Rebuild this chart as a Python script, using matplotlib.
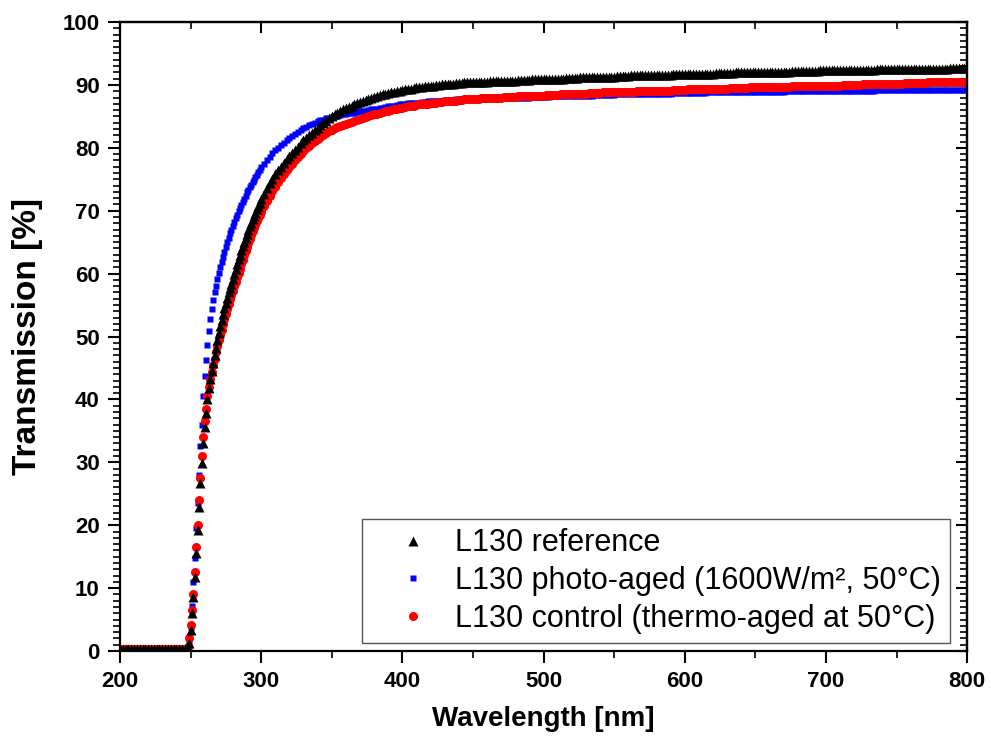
import numpy as np
import matplotlib
matplotlib.use('Agg')
import matplotlib.pyplot as plt
from matplotlib.ticker import MultipleLocator

plt.rcParams['font.family'] = ['Liberation Sans', 'DejaVu Sans']

# wavelength grid [nm]: flat part (2 nm), steep edge (1 nm), rest (2 nm)
wl = np.concatenate([np.arange(200, 248, 2), np.arange(248, 301, 1), np.arange(302, 801, 2)])

base = [0.3] * 24

ref_edge = [0.5, 1.3, 3.3, 6.0, 8.6, 11.8, 15.6, 19.2, 22.9, 26.7, 29.9, 33.1, 35.6, 37.8,
            40.0, 41.8, 43.2, 44.5, 45.8, 47.0, 48.2, 49.4, 50.5, 51.6, 52.6, 53.6, 54.5,
            55.4, 56.2, 57.0, 57.7, 58.4, 59.1, 59.9, 60.7, 61.5, 62.3, 63.0, 63.7, 64.4,
            65.1, 65.7, 66.3, 66.9, 67.5, 68.1, 68.7, 69.2, 69.7, 70.2, 70.8, 71.3, 71.8]
ref_rest = [72.7, 73.6, 74.4, 75.1, 75.8, 76.4, 77.0, 77.6, 78.2, 78.7,
            79.2, 79.7, 80.2, 80.7, 81.2, 81.6, 82.0, 82.4, 82.8, 83.2,
            83.6, 84.0, 84.3, 84.7, 85.0, 85.3, 85.6, 85.8, 86.1, 86.3,
            86.5, 86.7, 86.9, 87.1, 87.3, 87.5, 87.6, 87.8, 88.0, 88.1,
            88.2, 88.4, 88.5, 88.6, 88.7, 88.8, 88.9, 89.0, 89.1, 89.2,
            89.3, 89.4, 89.4, 89.5, 89.6, 89.6, 89.7, 89.8, 89.8, 89.9,
            89.9, 90.0, 90.0, 90.1, 90.1, 90.1, 90.2, 90.2, 90.3, 90.3,
            90.3, 90.4, 90.4, 90.4, 90.4, 90.5, 90.5, 90.5, 90.5, 90.5,
            90.6, 90.6, 90.6, 90.6, 90.6, 90.7, 90.7, 90.7, 90.7, 90.7,
            90.8, 90.8, 90.8, 90.8, 90.8, 90.9, 90.9, 90.9, 90.9, 90.9,
            91.0, 91.0, 91.0, 91.0, 91.0, 91.0, 91.0, 91.1, 91.1, 91.1,
            91.1, 91.1, 91.2, 91.2, 91.2, 91.2, 91.2, 91.2, 91.3, 91.3,
            91.3, 91.3, 91.3, 91.3, 91.3, 91.4, 91.4, 91.4, 91.4, 91.4,
            91.5, 91.5, 91.5, 91.5, 91.5, 91.5, 91.5, 91.6, 91.6, 91.6,
            91.6, 91.6, 91.6, 91.6, 91.6, 91.7, 91.7, 91.7, 91.7, 91.7,
            91.7, 91.7, 91.8, 91.8, 91.8, 91.8, 91.8, 91.8, 91.8, 91.8,
            91.9, 91.9, 91.9, 91.9, 91.9, 91.9, 91.9, 92.0, 92.0, 92.0,
            92.0, 92.0, 92.0, 92.0, 92.0, 92.0, 92.0, 92.1, 92.1, 92.1,
            92.1, 92.1, 92.1, 92.1, 92.1, 92.1, 92.1, 92.2, 92.2, 92.2,
            92.2, 92.2, 92.2, 92.2, 92.2, 92.2, 92.2, 92.3, 92.3, 92.3,
            92.3, 92.3, 92.3, 92.3, 92.3, 92.3, 92.3, 92.4, 92.4, 92.4,
            92.4, 92.4, 92.4, 92.4, 92.4, 92.4, 92.4, 92.5, 92.5, 92.5,
            92.5, 92.5, 92.5, 92.5, 92.5, 92.5, 92.5, 92.5, 92.5, 92.5,
            92.6, 92.6, 92.6, 92.6, 92.6, 92.6, 92.6, 92.6, 92.6, 92.6,
            92.6, 92.6, 92.6, 92.7, 92.7, 92.7, 92.7, 92.7, 92.7, 92.7]

photo_edge = [0.5, 1.6, 3.8, 7.2, 11.0, 14.8, 19.5, 23.5, 28.0, 32.6, 36.0, 40.5, 43.8, 46.3,
              48.6, 50.8, 52.8, 54.4, 55.8, 57.0, 58.1, 59.1, 60.1, 61.0, 61.9, 62.7, 63.5,
              64.3, 65.0, 65.7, 66.4, 67.0, 67.6, 68.2, 68.8, 69.4, 69.9, 70.4, 70.9, 71.4,
              71.9, 72.4, 72.9, 73.3, 73.7, 74.1, 74.5, 74.9, 75.3, 75.7, 76.1, 76.5, 76.9]
photo_rest = [77.5, 78.1, 78.6, 79.1, 79.6, 80.0, 80.4, 80.8, 81.2, 81.6,
              81.9, 82.2, 82.5, 82.8, 83.1, 83.3, 83.6, 83.8, 84.0, 84.2,
              84.4, 84.5, 84.7, 84.8, 84.9, 85.0, 85.1, 85.2, 85.3, 85.4,
              85.5, 85.5, 85.6, 85.7, 85.8, 85.8, 85.9, 86.0, 86.1, 86.2,
              86.2, 86.3, 86.4, 86.5, 86.6, 86.6, 86.7, 86.8, 86.9, 87.0,
              87.0, 87.1, 87.1, 87.2, 87.2, 87.2, 87.3, 87.3, 87.4, 87.4,
              87.4, 87.5, 87.5, 87.5, 87.6, 87.6, 87.6, 87.6, 87.7, 87.7,
              87.7, 87.7, 87.7, 87.8, 87.8, 87.8, 87.8, 87.8, 87.8, 87.8,
              87.9, 87.9, 87.9, 87.9, 87.9, 87.9, 87.9, 88.0, 88.0, 88.0,
              88.0, 88.0, 88.0, 88.0, 88.0, 88.1, 88.1, 88.1, 88.1, 88.1,
              88.1, 88.1, 88.2, 88.2, 88.2, 88.2, 88.2, 88.2, 88.2, 88.2,
              88.3, 88.3, 88.3, 88.3, 88.3, 88.3, 88.3, 88.4, 88.4, 88.4,
              88.4, 88.4, 88.4, 88.4, 88.4, 88.5, 88.5, 88.5, 88.5, 88.5,
              88.5, 88.5, 88.5, 88.5, 88.5, 88.6, 88.6, 88.6, 88.6, 88.6,
              88.6, 88.6, 88.6, 88.6, 88.6, 88.7, 88.7, 88.7, 88.7, 88.7,
              88.7, 88.7, 88.7, 88.7, 88.7, 88.7, 88.7, 88.8, 88.8, 88.8,
              88.8, 88.8, 88.8, 88.8, 88.8, 88.8, 88.8, 88.8, 88.8, 88.8,
              88.9, 88.9, 88.9, 88.9, 88.9, 88.9, 88.9, 88.9, 88.9, 88.9,
              88.9, 88.9, 88.9, 88.9, 88.9, 89.0, 89.0, 89.0, 89.0, 89.0,
              89.0, 89.0, 89.0, 89.0, 89.0, 89.0, 89.0, 89.0, 89.1, 89.1,
              89.1, 89.1, 89.1, 89.1, 89.1, 89.1, 89.1, 89.1, 89.1, 89.1,
              89.1, 89.1, 89.1, 89.1, 89.1, 89.1, 89.1, 89.2, 89.2, 89.2,
              89.2, 89.2, 89.2, 89.2, 89.2, 89.2, 89.2, 89.2, 89.2, 89.2,
              89.2, 89.2, 89.2, 89.2, 89.2, 89.2, 89.2, 89.2, 89.2, 89.2,
              89.2, 89.2, 89.2, 89.2, 89.2, 89.2, 89.2, 89.2, 89.2, 89.2]

ctrl_edge = [0.6, 2.0, 4.2, 6.5, 9.0, 12.5, 16.5, 20.0, 24.0, 27.5, 31.0, 34.0, 36.5, 38.5,
             40.5, 42.0, 43.2, 44.3, 45.4, 46.5, 47.5, 48.5, 49.4, 50.3, 51.1, 52.0, 52.8,
             53.6, 54.4, 55.2, 55.9, 56.6, 57.3, 58.0, 58.7, 59.4, 60.1, 60.8, 61.5, 62.2,
             62.9, 63.6, 64.3, 64.9, 65.5, 66.1, 66.7, 67.3, 67.8, 68.3, 68.8, 69.3, 69.8]
ctrl_rest = [70.7, 71.5, 72.3, 73.1, 73.8, 74.5, 75.2, 75.8, 76.4, 77.0,
             77.5, 78.0, 78.5, 79.0, 79.5, 79.9, 80.3, 80.7, 81.1, 81.4,
             81.7, 82.0, 82.3, 82.6, 82.9, 83.1, 83.3, 83.5, 83.7, 83.8,
             84.0, 84.1, 84.3, 84.4, 84.6, 84.7, 84.9, 85.0, 85.2, 85.3,
             85.4, 85.6, 85.7, 85.8, 85.9, 86.0, 86.1, 86.2, 86.3, 86.4,
             86.5, 86.6, 86.6, 86.7, 86.8, 86.9, 86.9, 87.0, 87.0, 87.1,
             87.2, 87.2, 87.3, 87.3, 87.4, 87.4, 87.5, 87.5, 87.5, 87.6,
             87.6, 87.7, 87.7, 87.7, 87.8, 87.8, 87.8, 87.9, 87.9, 87.9,
             87.9, 88.0, 88.0, 88.0, 88.0, 88.1, 88.1, 88.1, 88.1, 88.1,
             88.2, 88.2, 88.2, 88.2, 88.2, 88.3, 88.3, 88.3, 88.3, 88.3,
             88.4, 88.4, 88.4, 88.4, 88.4, 88.5, 88.5, 88.5, 88.5, 88.5,
             88.6, 88.6, 88.6, 88.6, 88.6, 88.7, 88.7, 88.7, 88.7, 88.7,
             88.8, 88.8, 88.8, 88.8, 88.8, 88.8, 88.8, 88.9, 88.9, 88.9,
             88.9, 88.9, 89.0, 89.0, 89.0, 89.0, 89.0, 89.0, 89.0, 89.0,
             89.1, 89.1, 89.1, 89.1, 89.1, 89.2, 89.2, 89.2, 89.2, 89.2,
             89.3, 89.3, 89.3, 89.3, 89.3, 89.3, 89.3, 89.4, 89.4, 89.4,
             89.4, 89.4, 89.4, 89.4, 89.4, 89.5, 89.5, 89.5, 89.5, 89.5,
             89.5, 89.5, 89.6, 89.6, 89.6, 89.6, 89.6, 89.6, 89.6, 89.6,
             89.7, 89.7, 89.7, 89.7, 89.7, 89.7, 89.7, 89.8, 89.8, 89.8,
             89.8, 89.8, 89.8, 89.8, 89.8, 89.9, 89.9, 89.9, 89.9, 89.9,
             89.9, 89.9, 89.9, 89.9, 89.9, 90.0, 90.0, 90.0, 90.0, 90.0,
             90.0, 90.0, 90.1, 90.1, 90.1, 90.1, 90.1, 90.1, 90.1, 90.1,
             90.2, 90.2, 90.2, 90.2, 90.2, 90.2, 90.2, 90.3, 90.3, 90.3,
             90.3, 90.3, 90.3, 90.3, 90.3, 90.4, 90.4, 90.4, 90.4, 90.4,
             90.4, 90.4, 90.5, 90.5, 90.5, 90.5, 90.5, 90.5, 90.5, 90.5]

t_ref = np.array(base + ref_edge + ref_rest)
t_photo = np.array(base + photo_edge + photo_rest)
t_ctrl = np.array(base + ctrl_edge + ctrl_rest)

labels = ['L130 reference', 'L130 photo-aged (1600W/m\u00b2, 50\u00b0C)',
          'L130 control (thermo-aged at 50\u00b0C)']

fig = plt.figure(figsize=(9.91, 7.47), dpi=100)
ax = fig.add_axes([0.121, 0.1285, 0.855, 0.842])

p_photo, = ax.plot(wl, t_photo, ls='none', marker='s', ms=5, color='#0000ff', mec='none')
p_ctrl, = ax.plot(wl, t_ctrl, ls='none', marker='o', ms=6.5, color='#ff0000', mec='none')
p_ref, = ax.plot(wl, t_ref, ls='none', marker='^', ms=7.5, color='black', mec='none')

ax.set_xlim(200, 800)
ax.set_ylim(0, 100)
ax.xaxis.set_major_locator(MultipleLocator(100))
ax.xaxis.set_minor_locator(MultipleLocator(50))
ax.yaxis.set_major_locator(MultipleLocator(10))
ax.yaxis.set_minor_locator(MultipleLocator(1))

for s in ax.spines.values():
    s.set_linewidth(1.6)
ax.tick_params(which='major', direction='out', length=8.5, width=1.5, labelsize=16, pad=6)
ax.tick_params(which='minor', direction='out', length=5, width=1.2)
for lab in ax.get_xticklabels() + ax.get_yticklabels():
    lab.set_fontweight('bold')

# mirrored ticks pointing inwards
top = ax.secondary_xaxis('top')
top.xaxis.set_major_locator(MultipleLocator(100))
top.xaxis.set_minor_locator(MultipleLocator(50))
top.tick_params(which='major', direction='in', length=8, width=1.5, labeltop=False)
top.tick_params(which='minor', direction='in', length=5, width=1.2)
right = ax.secondary_yaxis('right')
right.yaxis.set_major_locator(MultipleLocator(10))
right.yaxis.set_minor_locator(MultipleLocator(1))
right.tick_params(which='major', direction='in', length=8, width=1.5, labelright=False)
right.tick_params(which='minor', direction='in', length=5, width=1.2)
for sec in (top, right):
    for s in sec.spines.values():
        s.set_linewidth(1.6)

ax.set_xlabel('Wavelength [nm]', fontsize=20, fontweight='bold', labelpad=10)
ax.set_ylabel('Transmission [%]', fontsize=24, fontweight='bold', labelpad=14)

leg = ax.legend([p_ref, p_photo, p_ctrl], labels, loc='lower right',
                bbox_to_anchor=(0.98, 0.013), borderaxespad=0, fontsize=22,
                frameon=True, fancybox=False, edgecolor='#555555', framealpha=1,
                handlelength=2.75, handletextpad=0.0, labelspacing=0.25, borderpad=0.3)
leg.get_frame().set_linewidth(1.0)

fig.savefig('out.png', dpi=100)
